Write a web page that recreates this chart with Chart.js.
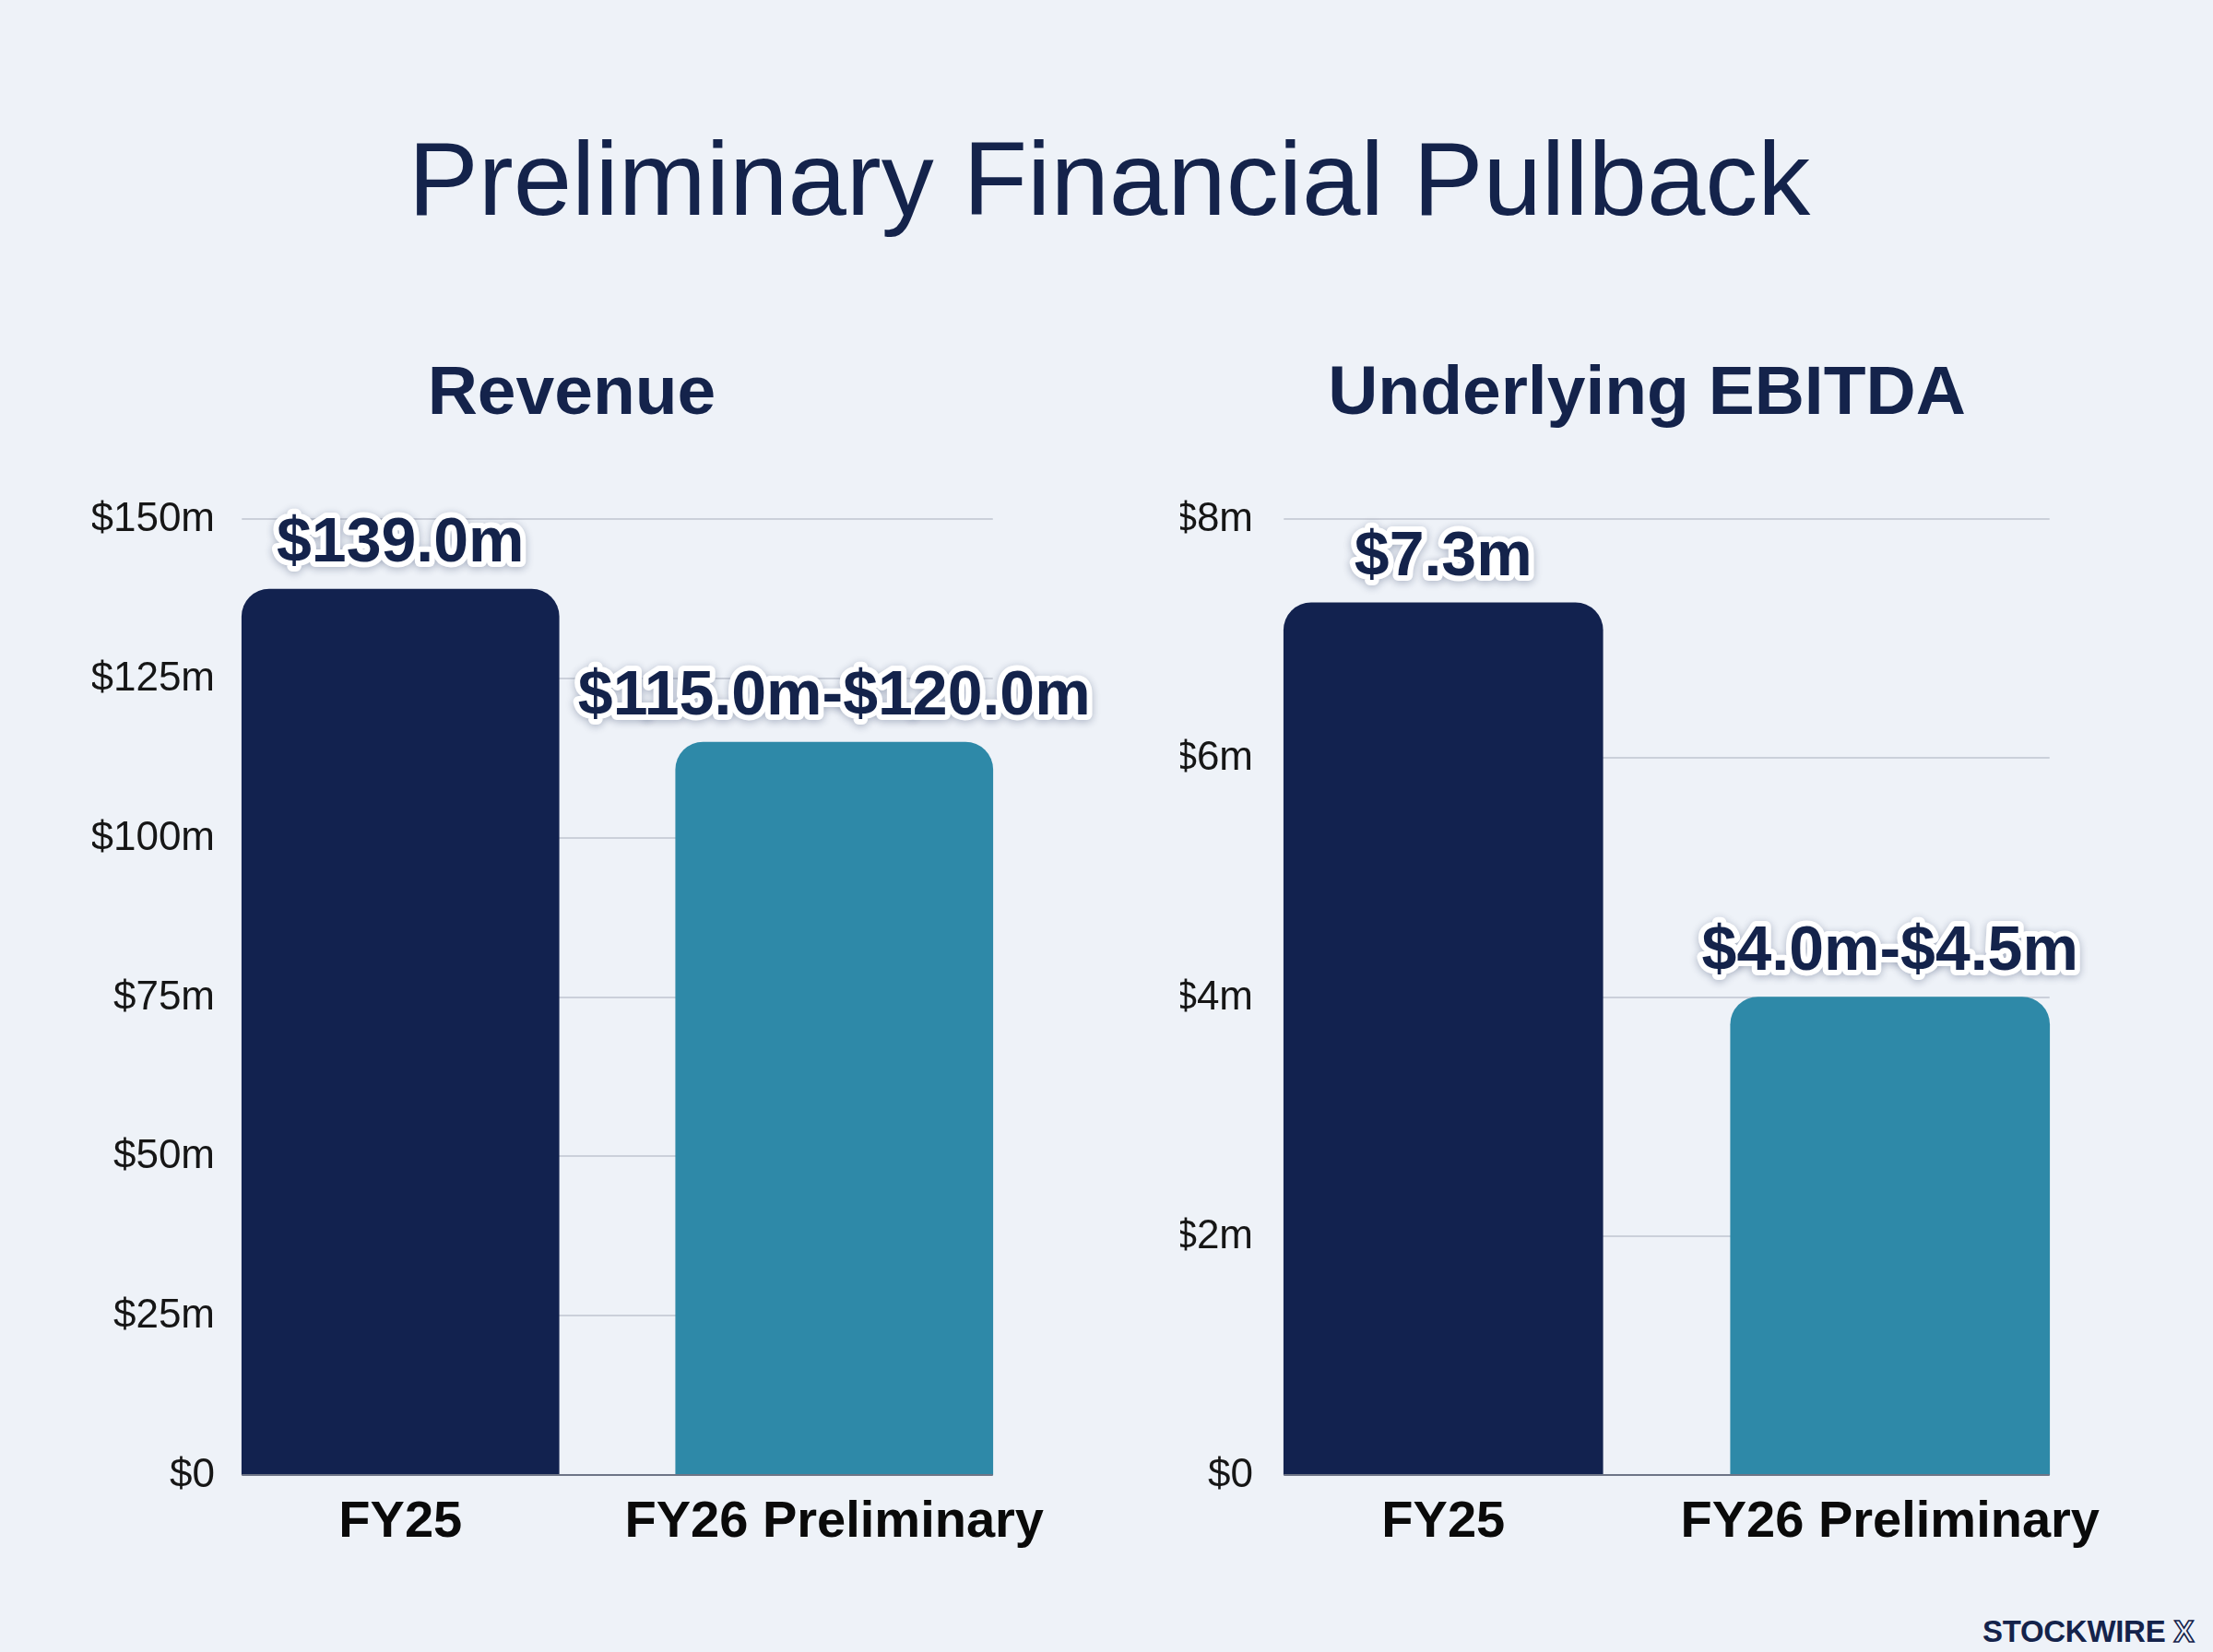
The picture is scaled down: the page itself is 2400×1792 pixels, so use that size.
<!DOCTYPE html>
<html>
<head>
<meta charset="utf-8">
<script src="https://cdn.jsdelivr.net/npm/chart.js@4.4.1/dist/chart.umd.min.js"></script>
<style>
  html, body { margin:0; padding:0; width:2400px; height:1792px; overflow:hidden;
    background:#EEF2F8; font-family:"Liberation Sans", Arial, sans-serif; }
  #title { position:absolute; left:0; top:137px; width:2406px; text-align:center;
    font-size:114px; line-height:114px; color:#14234B; white-space:nowrap; }
  .wrap { position:absolute; }
  #logo { position:absolute; left:2150px; top:1753px; font-size:33px; line-height:33px;
    font-weight:bold; color:#14234B; white-space:nowrap; letter-spacing:-0.3px; }
  #logo .x { color:transparent; -webkit-text-stroke:1.6px #14234B; margin-left:9px; }
</style>
</head>
<body>
<div id="title">Preliminary Financial Pullback</div>
<div class="wrap" style="left:100px; top:340px; width:1120px; height:1400px;"><canvas id="revChart"></canvas></div>
<div class="wrap" style="left:1280px; top:340px; width:1072px; height:1400px;"><canvas id="ebitdaChart"></canvas></div>
<div id="logo">STOCKWIRE<span class="x">X</span></div>

<script>
// ---------- DATA ----------
const categories = ['FY25', 'FY26 Preliminary'];

const revenueTitle = 'Revenue';
const revenueValues = [139.0, 115.0];
const revenueValueLabels = ['$139.0m', '$115.0m-$120.0m'];
const revenueTickValues = [0, 25, 50, 75, 100, 125, 150];
const revenueTickLabels = ['$0', '$25m', '$50m', '$75m', '$100m', '$125m', '$150m'];

const ebitdaTitle = 'Underlying EBITDA';
const ebitdaValues = [7.3, 4.0];
const ebitdaValueLabels = ['$7.3m', '$4.0m-$4.5m'];
const ebitdaTickValues = [0, 2, 4, 6, 8];
const ebitdaTickLabels = ['$0', '$2m', '$4m', '$6m', '$8m'];

// ---------- STYLE ----------
const barColors = ['#12224F', '#2E89A8'];
const navy = '#14234B';
const FONT = '"Liberation Sans", Arial, sans-serif';

// grid lines spanning only the bar extents, and the zero baseline
const spanGrid = {
  id: 'spanGrid',
  beforeDatasetsDraw(chart) {
    const meta = chart.getDatasetMeta(0);
    const first = meta.data[0], last = meta.data[meta.data.length - 1];
    const x0 = first.x - first.width / 2, x1 = last.x + last.width / 2;
    const y = chart.scales.y, ctx = chart.ctx;
    ctx.save();
    ctx.strokeStyle = '#CBD0DA';
    ctx.lineWidth = 2;
    y.ticks.forEach(t => {
      if (t.value === 0) return;
      const py = Math.round(y.getPixelForValue(t.value));
      ctx.beginPath(); ctx.moveTo(x0, py); ctx.lineTo(x1, py); ctx.stroke();
    });
    ctx.restore();
  },
  afterDatasetsDraw(chart) {
    const meta = chart.getDatasetMeta(0);
    const first = meta.data[0], last = meta.data[meta.data.length - 1];
    const x0 = first.x - first.width / 2, x1 = last.x + last.width / 2;
    const y = chart.scales.y, ctx = chart.ctx;
    const py = Math.round(y.getPixelForValue(0));
    ctx.save();
    ctx.strokeStyle = '#6E7586';
    ctx.lineWidth = 2;
    ctx.beginPath(); ctx.moveTo(x0, py); ctx.lineTo(x1, py); ctx.stroke();
    ctx.restore();
  }
};

// y tick labels, right-aligned just inside the left edge of the plot
const yTickText = {
  id: 'yTickText',
  afterDraw(chart, args, opts) {
    const y = chart.scales.y, ctx = chart.ctx;
    ctx.save();
    ctx.font = '44px ' + FONT;
    ctx.fillStyle = '#161616';
    ctx.textAlign = 'right';
    ctx.textBaseline = 'middle';
    const xr = chart.chartArea.left + opts.offset;
    y.ticks.forEach(t => {
      const k = opts.values.indexOf(t.value);
      if (k < 0) return;
      ctx.fillText(opts.labels[k], xr, y.getPixelForValue(t.value) + 1);
    });
    ctx.restore();
  }
};

const valueLabels = {
  id: 'valueLabels',
  afterDatasetsDraw(chart, args, opts) {
    const ctx = chart.ctx;
    const meta = chart.getDatasetMeta(0);
    const labels = opts.labels || [];
    ctx.save();
    ctx.font = 'bold 68px ' + FONT;
    ctx.textAlign = 'center';
    ctx.textBaseline = 'alphabetic';
    ctx.lineJoin = 'round';
    meta.data.forEach((bar, i) => {
      const x = bar.x, yy = bar.y - 30;
      ctx.shadowColor = 'rgba(20,35,75,0.30)';
      ctx.shadowBlur = 8;
      ctx.shadowOffsetY = 2;
      ctx.strokeStyle = '#FFFFFF';
      ctx.lineWidth = 12;
      ctx.strokeText(labels[i], x, yy);
      ctx.shadowColor = 'transparent';
      ctx.shadowBlur = 0;
      ctx.shadowOffsetY = 0;
      ctx.fillStyle = navy;
      ctx.fillText(labels[i], x, yy);
    });
    ctx.restore();
  }
};

function makeChart(id, title, values, valLabels, tickValues, tickLabels, layout) {
  return new Chart(document.getElementById(id), {
    type: 'bar',
    data: {
      labels: categories,
      datasets: [{
        data: values,
        backgroundColor: barColors,
        barThickness: layout.barThickness,
        borderRadius: { topLeft: 30, topRight: 30, bottomLeft: 0, bottomRight: 0 },
        borderSkipped: 'start'
      }]
    },
    options: {
      responsive: true,
      maintainAspectRatio: false,
      devicePixelRatio: 1,
      animation: false,
      layout: { padding: { left: 0, right: layout.padRight, top: 0, bottom: 0 } },
      plugins: {
        legend: { display: false },
        tooltip: { enabled: false },
        title: {
          display: true, text: title, color: navy,
          font: { family: FONT, size: 75, weight: 'bold', lineHeight: 1.2 },
          padding: { top: 43, bottom: 90 }
        },
        valueLabels: { labels: valLabels },
        yTickText: { values: tickValues, labels: tickLabels, offset: layout.tickOffset }
      },
      scales: {
        x: {
          type: 'category', offset: true,
          grid: { display: false, drawTicks: false },
          border: { display: false },
          ticks: { color: '#0A0A0A', font: { family: FONT, size: 56, weight: 'bold' },
                   padding: 18, maxRotation: 0, autoSkip: false },
          afterFit: s => { s.height = 140; }
        },
        y: {
          min: tickValues[0], max: tickValues[tickValues.length - 1],
          grid: { display: false, drawTicks: false },
          border: { display: false },
          ticks: { display: false, stepSize: tickValues[1] - tickValues[0] },
          afterFit: s => { s.width = layout.yWidth; }
        }
      }
    },
    plugins: [spanGrid, valueLabels, yTickText]
  });
}

makeChart('revChart', revenueTitle, revenueValues, revenueValueLabels, revenueTickValues, revenueTickLabels,
  { yWidth: 99, padRight: 80, tickOffset: 34, barThickness: 344 });
makeChart('ebitdaChart', ebitdaTitle, ebitdaValues, ebitdaValueLabels, ebitdaTickValues, ebitdaTickLabels,
  { yWidth: 43, padRight: 60, tickOffset: 36, barThickness: 346 });
</script>
</body>
</html>
